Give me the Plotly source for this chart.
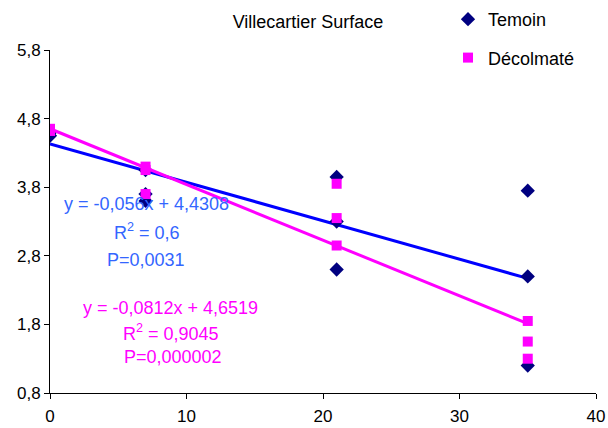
import plotly.graph_objects as go

# Days after treatment and measured values (three replicates per date)
temoin_x = [0, 0, 0, 7, 7, 7, 21, 21, 21, 35, 35, 35]
temoin_y = [4.6, 4.6, 4.55, 4.05, 3.7, 3.6, 3.95, 3.3, 2.6, 3.75, 2.5, 1.2]

decol_x = [0, 0, 0, 7, 7, 7, 21, 21, 21, 35, 35, 35]
decol_y = [4.65, 4.65, 4.62, 4.1, 4.05, 3.7, 3.85, 3.35, 2.95, 1.85, 1.55, 1.3]

# Linear trend coefficients
temoin_slope, temoin_icpt = -0.056, 4.4308
decol_slope, decol_icpt = -0.0812, 4.6519
trend_x = [0, 35]

x_ticks = [0, 10, 20, 30, 40]
y_ticks = [0.8, 1.8, 2.8, 3.8, 4.8, 5.8]

FONT = "Liberation Sans, Arial, sans-serif"
NAVY = "#000080"
BLUE = "#0000FF"
MAGENTA = "#FF00FF"
TXT_BLUE = "#3366FF"
W, H = 608, 428

fig = go.Figure()

fig.add_trace(go.Scatter(
    x=trend_x, y=[temoin_icpt + temoin_slope * v for v in trend_x],
    mode="lines", line=dict(color=BLUE, width=3), showlegend=False,
    hoverinfo="skip"))
fig.add_trace(go.Scatter(
    x=temoin_x, y=temoin_y, mode="markers", name="Temoin",
    legendgroup="t",
    marker=dict(symbol="diamond", size=11, color=NAVY)))
fig.add_trace(go.Scatter(
    x=decol_x, y=decol_y, mode="markers", name="Décolmaté",
    legendgroup="d",
    marker=dict(symbol="square", size=10, color=MAGENTA)))
fig.add_trace(go.Scatter(
    x=trend_x, y=[decol_icpt + decol_slope * v for v in trend_x],
    mode="lines", line=dict(color=MAGENTA, width=3), showlegend=False,
    hoverinfo="skip"))


def fmt(v):
    return ("%g" % v).replace(".", ",")


def eq(slope, icpt):
    return "y = -%sx + %s" % (fmt(abs(slope)), fmt(icpt))


notes = [
    (eq(temoin_slope, temoin_icpt), 7.1, 3.56, TXT_BLUE),
    ("R<sup>2</sup> = 0,6", 7.1, 3.15, TXT_BLUE),
    ("P=0,0031", 7.0, 2.74, TXT_BLUE),
    (eq(decol_slope, decol_icpt), 8.8, 2.04, MAGENTA),
    ("R<sup>2</sup> = 0,9045", 8.9, 1.68, MAGENTA),
    ("P=0,000002", 9.0, 1.32, MAGENTA),
]
for text, ax, ay, col in notes:
    fig.add_annotation(x=ax, y=ay, xref="x", yref="y", text=text,
                       showarrow=False, xanchor="center", yanchor="middle",
                       font=dict(family=FONT, size=18, color=col))

fig.update_layout(
    width=W, height=H,
    margin=dict(l=50, r=12, t=50, b=35, autoexpand=False),
    paper_bgcolor="white", plot_bgcolor="white",
    separators=", ",
    font=dict(family=FONT, size=17, color="black"),
    title=dict(text="Villecartier Surface", x=308 / W, xref="container",
               xanchor="center", y=1 - 22 / H, yref="container",
               yanchor="middle",
               font=dict(family=FONT, size=18, color="black")),
    legend=dict(x=448 / W, y=1 - 1 / H, xref="container", yref="container",
                xanchor="left", yanchor="top", bgcolor="rgba(0,0,0,0)",
                tracegroupgap=12, font=dict(family=FONT, size=18),
                itemwidth=30),
    xaxis=dict(range=[0, 40], tickvals=x_ticks, ticks="outside", ticklen=5,
               tickcolor="black", showline=True, linecolor="black",
               linewidth=1, showgrid=False, zeroline=False, automargin=False,
               ticklabelstandoff=3,
               tickfont=dict(family=FONT, size=17)),
    yaxis=dict(range=[0.8, 5.8], tickvals=y_ticks, tickformat=".1f",
               ticks="outside", ticklen=5, tickcolor="black", showline=True,
               linecolor="black", linewidth=1, showgrid=False,
               zeroline=False, automargin=False,
               tickfont=dict(family=FONT, size=17)),
)

fig.write_html("out.html")
